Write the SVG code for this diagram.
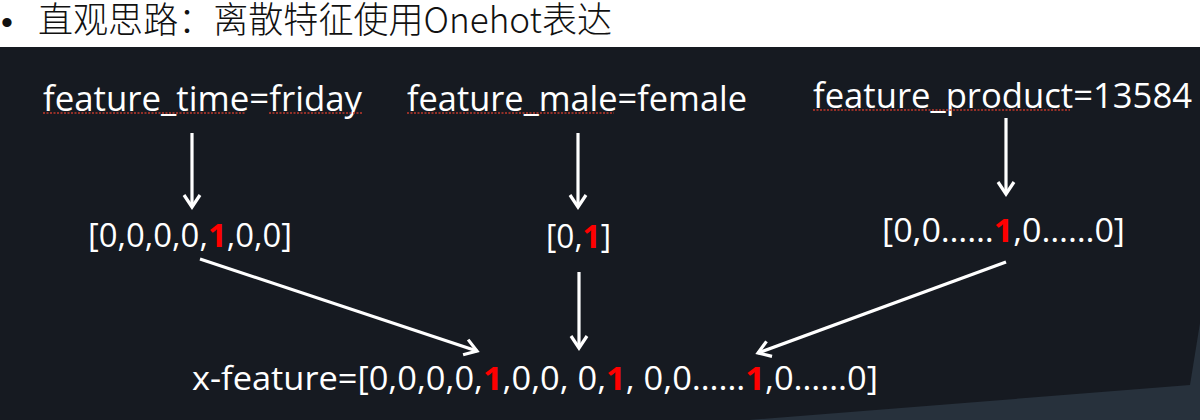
<svg xmlns="http://www.w3.org/2000/svg" width="1200" height="420" viewBox="0 0 1200 420">
  <style>
    .en { font-family: "Open Sans", "Noto Sans", "Liberation Sans", sans-serif; fill: #ffffff; }
    .top { font-size: 35px; }
    .vec { font-size: 32px; }
    .red { fill: #ff0000; font-weight: 700; }
    .title { font-family: "Noto Sans CJK SC", "Noto Sans", sans-serif; font-size: 36px; fill: #111111; font-weight: 300; }
    .conn { stroke: #ffffff; stroke-width: 3.2; fill: none; marker-end: url(#arrow); }
    .squiggle { stroke: #c0392b; stroke-width: 1.6; stroke-dasharray: 2 1.5; fill: none; }
  </style>
  <defs>
    <marker id="arrow" markerUnits="userSpaceOnUse" viewBox="-16 -11 20 22" refX="0" refY="0" markerWidth="20" markerHeight="22" orient="auto">
      <path d="M-12,-8 L0,0 L-12,8" fill="none" stroke="#ffffff" stroke-width="3.2" stroke-linejoin="miter"/>
    </marker>
  </defs>

  <!-- backgrounds -->
  <rect x="0" y="0" width="1200" height="420" fill="#ffffff"/>
  <rect x="0" y="47" width="1200" height="373" fill="#161a21"/>
  <polygon points="749,420 1190,385 1200,323 1200,420" fill="#27313c"/>

  <g id="title">
    <text x="1" y="34" font-family="Liberation Sans, sans-serif" font-size="34" fill="#111111">•</text>
    <text class="title" x="38" y="33" textLength="574" lengthAdjust="spacingAndGlyphs">直观思路：离散特征使用Onehot表达</text>
  </g>

  <g id="feat_time">
    <text class="en top" x="43" y="111" textLength="319" lengthAdjust="spacingAndGlyphs">feature_time=friday</text>
    <line class="squiggle" x1="43" y1="113" x2="245" y2="113"/>
    <line class="squiggle" x1="269" y1="113" x2="363" y2="113"/>
  </g>

  <g id="feat_male">
    <text class="en top" x="407" y="111" textLength="340" lengthAdjust="spacingAndGlyphs">feature_male=female</text>
    <line class="squiggle" x1="407" y1="113" x2="614" y2="113"/>
  </g>

  <g id="feat_product">
    <text class="en top" x="813" y="108" textLength="379" lengthAdjust="spacingAndGlyphs">feature_product=13584</text>
    <line class="squiggle" x1="813" y1="110" x2="1070" y2="110"/>
  </g>

  <g id="vec_time">
    <text class="en vec" x="88" y="247" textLength="204" lengthAdjust="spacingAndGlyphs">[0,0,0,0,<tspan class="red">1</tspan>,0,0]</text>
  </g>

  <g id="vec_male">
    <text class="en vec" x="546" y="248" textLength="65" lengthAdjust="spacingAndGlyphs">[0,<tspan class="red">1</tspan>]</text>
  </g>

  <g id="vec_product">
    <text class="en vec" x="882" y="242" textLength="243" lengthAdjust="spacingAndGlyphs">[0,0……<tspan class="red">1</tspan>,0……0]</text>
  </g>

  <g id="x_feature">
    <text class="en vec" x="192" y="390" textLength="686" lengthAdjust="spacingAndGlyphs">x-feature=[0,0,0,0,<tspan class="red">1</tspan>,0,0, 0,<tspan class="red">1</tspan>, 0,0……<tspan class="red">1</tspan>,0……0]</text>
  </g>

  <g id="connectors">
    <line class="conn" x1="192" y1="133" x2="192" y2="207"/>
    <line class="conn" x1="578" y1="133" x2="578" y2="207"/>
    <line class="conn" x1="1006" y1="118" x2="1006" y2="194"/>
    <line class="conn" x1="579" y1="272" x2="579" y2="348"/>
    <line class="conn" x1="200" y1="259" x2="477" y2="351"/>
    <line class="conn" x1="1006" y1="262" x2="758" y2="353"/>
  </g>
</svg>
